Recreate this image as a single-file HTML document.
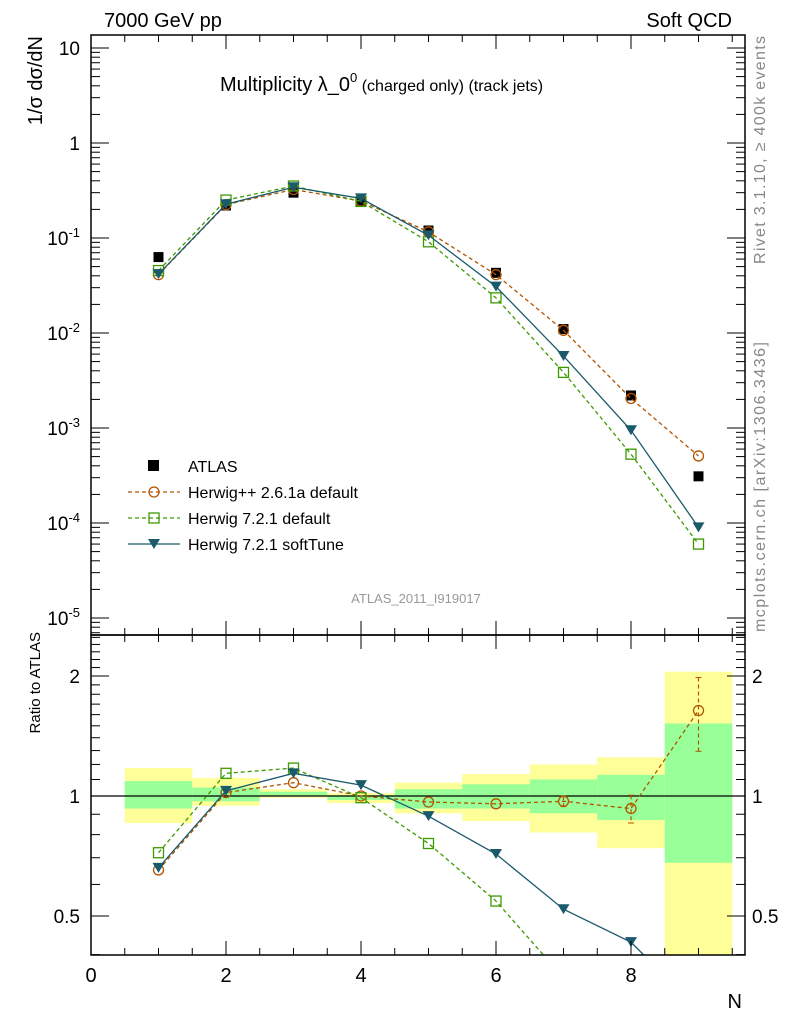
<!DOCTYPE html>
<html><head><meta charset="utf-8"><style>
html,body{margin:0;padding:0;background:#fff;overflow:hidden;}
svg{display:block;font-family:"Liberation Sans",sans-serif;}
</style></head><body>
<svg id="c" width="786" height="1024" viewBox="0 0 786 1024" xmlns="http://www.w3.org/2000/svg"></svg>
<script>
const bins=[1,2,3,4,5,6,7,8,9];
const atlas=[0.063,0.22,0.30,0.245,0.12,0.043,0.011,0.0022,0.00031];
const hwpp=[0.0411,0.2244,0.324,0.245,0.1159,0.0411,0.01067,0.002046,0.000508];
const hw72=[0.0454,0.2508,0.3525,0.2426,0.0912,0.02344,0.00385,0.00053,0.00006];
const hwsoft=[0.0416,0.2266,0.342,0.2609,0.1068,0.03075,0.00572,0.000946,0.00009];
const hwppErr=[0,0,0,0,0,0,0.03,0.08,0.21];
const yelLo=[0.855,0.945,0.99,0.96,0.905,0.865,0.81,0.74,0.3];
const yelHi=[1.175,1.11,1.04,1.017,1.08,1.135,1.2,1.25,2.05];
const grnLo=[0.93,0.97,1.0,0.977,0.93,0.93,0.905,0.87,0.68];
const grnHi=[1.09,1.05,1.025,1.005,1.04,1.07,1.1,1.13,1.52];
const yTicks=["10","1","10^-1","10^-2","10^-3","10^-4","10^-5"];
const xTicks=[0,2,4,6,8];

const L=91,R=745,T=35,M=635,B=955;
const X=v=>L+v*67.5;
const Y=v=>48+(1-Math.log10(v))*95;
const RY=v=>796-Math.log2(v)*120;
const svg=document.getElementById('c');
const NS='http://www.w3.org/2000/svg';
function el(t,a,p){const e=document.createElementNS(NS,t);for(const k in a)e.setAttribute(k,a[k]);(p||svg).appendChild(e);return e;}
function txt(x,y,s,a,p){const e=el('text',Object.assign({x:x,y:y},a||{}),p);e.textContent=s;return e;}

const defs=el('defs',{});
const c1=el('clipPath',{id:'cm'},defs);el('rect',{x:L,y:T,width:R-L,height:M-T},c1);
const c2=el('clipPath',{id:'cr'},defs);el('rect',{x:L,y:M,width:R-L,height:B-M},c2);

const gb=el('g',{'clip-path':'url(#cr)'});


bins.forEach((b,i)=>{
  const r1=el('rect',{x:X(b-0.5),width:67.5,y:RY(yelHi[i]),height:RY(yelLo[i])-RY(yelHi[i]),fill:'#ffff99'},gb);
  
  
  const r2=el('rect',{x:X(b-0.5),width:67.5,y:RY(grnHi[i]),height:RY(grnLo[i])-RY(grnHi[i]),fill:'#99ff99'},gb);
  
  
});
el('line',{x1:L,x2:R,y1:RY(1),y2:RY(1),stroke:'#000','stroke-width':1.3});

const series=[
 {d:hwpp,c:'#b35400',dash:'4,3',m:'circle',n:'herwigpp-series',err:hwppErr},
 {d:hw72,c:'#3d9900',dash:'4,3',m:'square',n:'herwig721-default-series'},
 {d:hwsoft,c:'#1b5a6b',dash:'',m:'tri',n:'herwig721-softtune-series'}];
function marker(g,m,x,y,c){
  if(m==='circle')return el('circle',{cx:x,cy:y,r:5,fill:'none',stroke:c,'stroke-width':1.3},g);
  if(m==='square')return el('rect',{x:x-5,y:y-5,width:10,height:10,fill:'none',stroke:c,'stroke-width':1.3},g);
  return el('path',{d:`M${x-6},${y-5}L${x+6},${y-5}L${x},${y+5}Z`,fill:c},g);
}
const gm=el('g',{'clip-path':'url(#cm)'});
const ga=el('g',{},gm);


bins.forEach((b,i)=>{const r=el('rect',{x:X(b)-5,y:Y(atlas[i])-5,width:10,height:10,fill:'#000'},ga);});
const gr=el('g',{'clip-path':'url(#cr)'});
series.forEach(s=>{
  const g=el('g',{},gm);
  
  
  el('polyline',{points:bins.map((b,i)=>X(b)+','+Y(s.d[i])).join(' '),fill:'none',stroke:s.c,'stroke-width':1.3,'stroke-dasharray':s.dash},g);
  bins.forEach((b,i)=>{const mk=marker(g,s.m,X(b),Y(s.d[i]),s.c);});
  const g2=el('g',{},gr);
  
  
  el('polyline',{points:bins.map((b,i)=>X(b)+','+RY(s.d[i]/atlas[i])).join(' '),fill:'none',stroke:s.c,'stroke-width':1.3,'stroke-dasharray':s.dash},g2);
  bins.forEach((b,i)=>{
    const r=s.d[i]/atlas[i];
    if(s.err&&s.err[i]>0){
      const e=s.err[i];
      [[RY(r*(1+e)),RY(r*(1-e))]].forEach(([ya,yb])=>{
        el('line',{x1:X(b),x2:X(b),y1:ya,y2:yb,stroke:s.c,'stroke-width':1.2,'stroke-dasharray':s.dash},g2);
        el('line',{x1:X(b)-3,x2:X(b)+3,y1:ya,y2:ya,stroke:s.c},g2);
        el('line',{x1:X(b)-3,x2:X(b)+3,y1:yb,y2:yb,stroke:s.c},g2);
      });
    }
    const mk=marker(g2,s.m,X(b),RY(r),s.c);});
});

el('rect',{x:L,y:T,width:R-L,height:M-T,fill:'none',stroke:'#000','stroke-width':1.5});
el('rect',{x:L,y:M,width:R-L,height:B-M,fill:'none',stroke:'#000','stroke-width':1.5});

for(let v=0;v<=9.6;v+=0.5){
  const maj=Math.abs(v%2)<1e-9;const len=maj?14:7;
  [[T,1],[M,1],[M,-1],[B,-1]].forEach(([y0,d])=>el('line',{x1:X(v),x2:X(v),y1:y0,y2:y0+d*len,stroke:'#000','stroke-width':1}));
}
xTicks.forEach(v=>{const t=txt(X(v),982,String(v),{'font-size':20,'text-anchor':'middle'});});

for(let e=-6;e<=1;e++){for(let k=1;k<10;k++){const v=k*Math.pow(10,e);const y=Y(v);if(y<T||y>M)continue;const len=k===1?18:9;
 el('line',{x1:L,x2:L+len,y1:y,y2:y,stroke:'#000'});el('line',{x1:R,x2:R-len,y1:y,y2:y,stroke:'#000'});}}
yTicks.forEach((s,i)=>{const y=Y(Math.pow(10,1-i))+7;
 const t=el('text',{x:80,y:y,'font-size':19,'text-anchor':'end'});
 
 
 const p=s.split('^');t.appendChild(document.createTextNode(p[0]));
 if(p[1]){const ts=el('tspan',{'font-size':13,dy:-8},t);ts.textContent=p[1];}
});
for(let v=0.4;v<=2.6;v+=0.1){const y=RY(v);if(y<M||y>B)continue;const maj=Math.abs(v-0.5)<1e-6||Math.abs(v-1)<1e-6||Math.abs(v-2)<1e-6;const len=maj?18:9;
 el('line',{x1:L,x2:L+len,y1:y,y2:y,stroke:'#000'});el('line',{x1:R,x2:R-len,y1:y,y2:y,stroke:'#000'});}
[[2,'2'],[1,'1'],[0.5,'0.5']].forEach(([v,s])=>{
 const a=txt(80,RY(v)+7,s,{'font-size':19,'text-anchor':'end'});
 const b=txt(752,RY(v)+7,s,{'font-size':19});
});

let t;
t=txt(104,27,'7000 GeV pp',{'font-size':20});
t=txt(732,27,'Soft QCD',{'font-size':20,'text-anchor':'end'});
t=el('text',{x:220,y:91,'font-size':20});
t.appendChild(document.createTextNode('Multiplicity λ_0'));
let ts=el('tspan',{'font-size':13,dy:-9},t);ts.textContent='0';
ts=el('tspan',{'font-size':16,dy:9},t);ts.textContent=' (charged only) (track jets)';
t=txt(0,0,'1/σ dσ/dN',{'font-size':20,'text-anchor':'end',transform:'translate(42,36) rotate(-90)'});
t=txt(0,0,'Ratio to ATLAS',{'font-size':15,'text-anchor':'end',transform:'translate(40,632) rotate(-90)'});
t=txt(742,1008,'N',{'font-size':20,'text-anchor':'end'});
t=txt(416,603,'ATLAS_2011_I919017',{'font-size':13,'text-anchor':'middle',fill:'#999'});
t=txt(0,0,'Rivet 3.1.10, ≥ 400k events',{'font-size':16,fill:'#888',textLength:228,transform:'translate(765,264) rotate(-90)'});
t=txt(0,0,'mcplots.cern.ch [arXiv:1306.3436]',{'font-size':16,fill:'#888',textLength:290,transform:'translate(765,632) rotate(-90)'});

const lg=el('g',{});


const le=[['ATLAS',null],['Herwig++ 2.6.1a default',series[0]],['Herwig 7.2.1 default',series[1]],['Herwig 7.2.1 softTune',series[2]]];
le.forEach(([name,s],i)=>{const y=466+i*26;const g=el('g',{},lg);
 
 
 if(!s){el('rect',{x:148,y:y-6,width:11,height:11,fill:'#000'},g);}
 else{el('line',{x1:128,x2:180,y1:y,y2:y,stroke:s.c,'stroke-width':1.3,'stroke-dasharray':s.dash},g);marker(g,s.m,154,y,s.c);}
 txt(188,y+6,name,{'font-size':16},g);
});
</script>
</body></html>
